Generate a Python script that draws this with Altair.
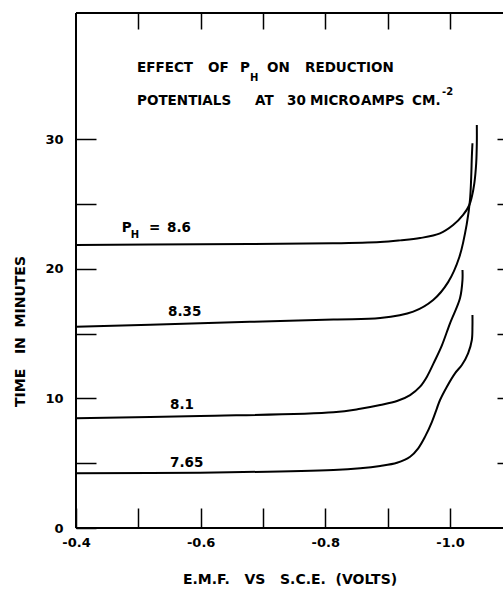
import altair as alt
import pandas as pd

# ---------------- data ----------------
ph_values = ["8.6", "8.35", "8.1", "7.65"]

emf_86 = [-0.400, -0.599, -0.812, -0.888, -0.920, -0.952, -0.984, -1.005,
          -1.021, -1.031, -1.035, -1.039, -1.042, -1.043, -1.043]
time_86 = [21.84, 21.90, 21.97, 22.07, 22.20, 22.38, 22.74, 23.38,
           24.16, 24.93, 25.57, 26.60, 28.15, 29.69, 31.10]

emf_835 = [-0.400, -0.599, -0.813, -0.888, -0.941, -0.973, -0.997, -1.015,
           -1.027, -1.032, -1.034, -1.035, -1.036]
time_835 = [15.54, 15.80, 16.10, 16.20, 16.70, 17.60, 18.98, 20.92,
            23.50, 25.30, 27.10, 28.65, 29.70]

emf_81 = [-0.400, -0.599, -0.813, -0.856, -0.888, -0.915, -0.936, -0.952,
          -0.963, -0.975, -0.987, -1.000, -1.016, -1.020, -1.020]
time_81 = [8.47, 8.64, 8.93, 9.20, 9.49, 9.80, 10.26, 10.91,
           11.68, 12.85, 14.10, 15.80, 17.73, 19.14, 19.91]

emf_765 = [-0.400, -0.599, -0.813, -0.856, -0.888, -0.915, -0.936, -0.949,
           -0.960, -0.971, -0.979, -0.984, -0.995, -1.008, -1.019, -1.029,
           -1.035, -1.036, -1.036]
time_765 = [4.22, 4.27, 4.48, 4.61, 4.79, 5.04, 5.50, 6.15,
            7.05, 8.20, 9.24, 9.88, 10.91, 11.94, 12.58, 13.48,
            14.51, 15.59, 16.44]

x_tick_values = [-0.4, -0.5, -0.6, -0.7, -0.8, -0.9, -1.0]
x_top_ticks = [-0.5, -0.6, -0.7, -0.8, -0.9, -1.0]
y_tick_values = [0, 5, 10, 15, 20, 25, 30]
y_right_ticks = [5, 10, 15, 20, 25, 30]

x_domain = [-1.085, -0.4]
y_domain = [0, 39.75]

# annotation texts (main size)
ann_text = ["EFFECT", "OF", "P", "ON", "REDUCTION",
            "POTENTIALS", "AT", "30", "MICRO", "AMPS", "CM.",
            "P", "=", "8.6", "8.35", "8.1", "7.65"]
ann_x = [-0.4979, -0.6118, -0.6631, -0.7064, -0.7674,
         -0.4979, -0.6872, -0.7385, -0.7754, -0.8572, -0.9391,
         -0.4733, -0.5171, -0.5460, -0.5476, -0.5508, -0.5508]
ann_y = [35.17, 35.17, 35.17, 35.17, 35.17,
         32.65, 32.65, 32.65, 32.65, 32.65, 32.65,
         22.87, 22.87, 22.87, 16.36, 9.16, 4.73]

# small sub/superscripts
sub_text = ["H", "-2", "H"]
sub_x = [-0.6792, -0.9872, -0.4878]
sub_y = [34.50, 33.42, 22.40]

# ---------------- build tables ----------------
rows = []
for ph, xs_, ys_ in zip(ph_values, [emf_86, emf_835, emf_81, emf_765],
                        [time_86, time_835, time_81, time_765]):
    for i, (a, b) in enumerate(zip(xs_, ys_)):
        rows.append({"ph": ph, "emf": a, "time": b, "idx": i})
curves = pd.DataFrame(rows)
ann = pd.DataFrame({"text": ann_text, "x": ann_x, "y": ann_y})
sub = pd.DataFrame({"text": sub_text, "x": sub_x, "y": sub_y})
one = pd.DataFrame({"k": [0]})

FONT = "DejaVu Sans"
NB = "\u00a0"
xscale = alt.Scale(domain=x_domain, reverse=True, nice=False, zero=False)
yscale = alt.Scale(domain=y_domain, nice=False, zero=False)

x_label_expr = ("abs(round(datum.value*10)) % 2 == 0 ? "
                "'-' + format(abs(datum.value), '.1f') : ''")

x_title = "E.M.F." + NB * 3 + "VS" + NB * 3 + "S.C.E." + NB * 2 + "(VOLTS)"
y_title = "TIME" + NB * 3 + "IN" + NB * 2 + "MINUTES"

lines = alt.Chart(curves).mark_line(
    color="black", strokeWidth=2, interpolate="catmull-rom"
).encode(
    x=alt.X("emf:Q", scale=xscale, axis=alt.Axis(
        orient="bottom", values=x_tick_values, offset=-20, tickSize=20,
        tickWidth=1.5, tickColor="black", domain=False, grid=False,
        labelExpr=x_label_expr, labelPadding=8, labelFont=FONT,
        labelFontSize=13, labelFontWeight="bold", labelColor="black",
        labelFlush=False,
        title=x_title, titleFont=FONT,
        titleFontSize=14, titleFontWeight="bold", titleColor="black",
        titleBaseline="alphabetic", titleY=75)),
    y=alt.Y("time:Q", scale=yscale, axis=alt.Axis(
        orient="left", values=y_tick_values, offset=-20, tickSize=20,
        tickWidth=1.5, tickColor="black", domain=False, grid=False,
        labelExpr="datum.value % 10 == 0 ? datum.label : ''",
        labelPadding=13, labelFont=FONT, labelFontSize=13,
        labelFontWeight="bold", labelColor="black", labelFlush=False,
        title=y_title, titleFont=FONT, titleFontSize=14,
        titleFontWeight="bold", titleColor="black",
        titleBaseline="alphabetic", titleX=-72, titleY=318)),
    detail="ph:N",
    order="idx:Q",
)

left_frame = alt.Chart(one).mark_rule(color="black", strokeWidth=2).encode(
    x=alt.XDatum(-0.4, axis=alt.Axis(
        orient="top", values=x_top_ticks, offset=-16, tickSize=16,
        tickWidth=1.5, tickColor="black", domain=False, grid=False,
        labels=False, title=None))
)

top_frame = alt.Chart(one).mark_rule(color="black", strokeWidth=2).encode(
    y=alt.YDatum(y_domain[1], axis=alt.Axis(
        orient="right", values=y_right_ticks, offset=-6, tickSize=6,
        tickWidth=1.5, tickColor="black", domain=False, grid=False,
        labels=False, title=None))
)

bottom_frame = alt.Chart(one).mark_rule(color="black", strokeWidth=2).encode(
    y=alt.YDatum(0, axis=None)
)

texts = alt.Chart(ann).mark_text(
    font=FONT, fontSize=13.5, fontWeight="bold", color="black",
    align="left", baseline="alphabetic"
).encode(
    x=alt.X("x:Q", axis=None),
    y=alt.Y("y:Q", axis=None),
    text="text:N",
)

subs = alt.Chart(sub).mark_text(
    font=FONT, fontSize=10, fontWeight="bold", color="black",
    align="left", baseline="alphabetic"
).encode(
    x=alt.X("x:Q", axis=None),
    y=alt.Y("y:Q", axis=None),
    text="text:N",
)

chart = alt.layer(
    lines, left_frame, top_frame, bottom_frame, texts, subs
).resolve_axis(
    x="independent", y="independent"
).properties(
    width=427, height=515,
    padding={"left": 76, "top": 13, "right": 0, "bottom": 63},
    autosize=alt.AutoSizeParams(type="none"),
    background="white",
).configure_view(stroke=None)

chart.save("out.html", embed_options={"renderer": "svg", "actions": False})
